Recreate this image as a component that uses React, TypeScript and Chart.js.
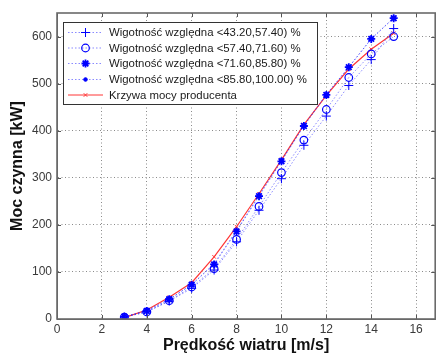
import React, { useEffect, useRef } from "react";
import { Chart, registerables } from "chart.js";

Chart.register(...registerables);

const windSpeed = [3, 4, 5, 6, 7, 8, 9, 10, 11, 12, 13, 14, 15];
const hum1 = [4, 15, 38, 65, 104, 164, 231, 298, 369, 431, 496, 551, 617];
const hum2 = [4, 15, 39, 68, 107, 169, 239, 311, 380, 445, 513, 563, 600];
const hum3 = [5, 17, 42, 73, 116, 186, 261, 335, 410, 476, 535, 595, 639];
const hum4 = [5, 18, 42, 73, 118, 188, 263, 337, 411, 477, 535, 595, 640];
const producer = [3, 19, 46, 77, 132, 196, 266, 338, 413, 475, 531, 573, 607];

const seriesLabels = [
  "Wigotność względna <43.20,57.40) %",
  "Wigotność względna <57.40,71.60) %",
  "Wigotność względna <71.60,85.80) %",
  "Wigotność względna <85.80,100.00) %",
  "Krzywa mocy producenta",
];
const xTitle = "Prędkość wiatru [m/s]";
const yTitle = "Moc czynna [kW]";
const xTicks = [0, 2, 4, 6, 8, 10, 12, 14, 16];
const yTicks = [0, 100, 200, 300, 400, 500, 600];

const FONT = "'Liberation Sans', Arial, sans-serif";
const BLUE = "#0000ff";
const BLUE_LINE = "rgba(40,40,255,0.55)";
const RED = "rgb(255,55,55)";

const pts = (ys: number[]) => windSpeed.map((x, i) => ({ x, y: ys[i] }));

function drawMarker(ctx: CanvasRenderingContext2D, style: string, r: number, x: number, y: number, d: any) {
  ctx.beginPath();
  if (style === "cross") {
    ctx.moveTo(x - r, y); ctx.lineTo(x + r, y);
    ctx.moveTo(x, y - r); ctx.lineTo(x, y + r);
    ctx.stroke();
  } else if (style === "crossRot") {
    const k = r * 0.707;
    ctx.moveTo(x - k, y - k); ctx.lineTo(x + k, y + k);
    ctx.moveTo(x - k, y + k); ctx.lineTo(x + k, y - k);
    ctx.stroke();
  } else if (style === "star") {
    const k = r * 0.707;
    ctx.moveTo(x - r, y); ctx.lineTo(x + r, y);
    ctx.moveTo(x, y - r); ctx.lineTo(x, y + r);
    ctx.moveTo(x - k, y - k); ctx.lineTo(x + k, y + k);
    ctx.moveTo(x - k, y + k); ctx.lineTo(x + k, y - k);
    ctx.stroke();
  } else {
    ctx.arc(x, y, r, 0, Math.PI * 2);
    if (d.pointBackgroundColor && d.pointBackgroundColor !== "rgba(0,0,0,0)") ctx.fill();
    ctx.stroke();
  }
}

const boxPlugin = {
  id: "matlabBox",
  afterDraw(chart: any) {
    const { ctx, chartArea: a, scales } = chart;
    ctx.save();
    ctx.strokeStyle = "#555";
    ctx.lineWidth = 1;
    ctx.beginPath();
    xTicks.forEach((v) => {
      const px = Math.round(scales.x.getPixelForValue(v)) + 0.5;
      ctx.moveTo(px, a.bottom);
      ctx.lineTo(px, a.bottom - 4);
      ctx.moveTo(px, a.top);
      ctx.lineTo(px, a.top + 4);
    });
    yTicks.forEach((v) => {
      const py = Math.round(scales.y.getPixelForValue(v)) + 0.5;
      ctx.moveTo(a.left, py);
      ctx.lineTo(a.left + 4, py);
      ctx.moveTo(a.right, py);
      ctx.lineTo(a.right - 4, py);
    });
    ctx.stroke();
    ctx.strokeStyle = "#6a6a6a";
    ctx.lineWidth = 1.6;
    ctx.strokeRect(a.left, a.top, a.right - a.left, a.bottom - a.top);

    // legend
    const lx = 63, ly = 22, lw = 254, lh = 82;
    ctx.fillStyle = "#ffffff";
    ctx.fillRect(lx, ly, lw, lh);
    ctx.strokeStyle = "#333";
    ctx.lineWidth = 1;
    ctx.strokeRect(lx + 0.5, ly + 0.5, lw, lh);
    const rows = [32.5, 48, 63.5, 79.5, 95];
    const ds = chart.data.datasets;
    rows.forEach((ry, i) => {
      const d = ds[i];
      ctx.save();
      ctx.strokeStyle = d.borderColor;
      ctx.lineWidth = 1;
      ctx.setLineDash(d.borderDash || []);
      ctx.beginPath();
      ctx.moveTo(68, ry);
      ctx.lineTo(103, ry);
      ctx.stroke();
      ctx.restore();
      ctx.save();
      ctx.strokeStyle = d.pointBorderColor;
      ctx.fillStyle = d.pointBackgroundColor;
      ctx.lineWidth = d.pointBorderWidth;
      drawMarker(ctx, d.pointStyle, d.pointRadius, 85.5, ry, d);
      ctx.restore();
      ctx.fillStyle = "#1a1a1a";
      ctx.font = `11.4px ${FONT}`;
      ctx.textBaseline = "middle";
      ctx.textAlign = "left";
      ctx.fillText(seriesLabels[i], 109, ry + 0.5);
    });
    ctx.restore();
  },
};

export default function App() {
  const ref = useRef<HTMLCanvasElement>(null);
  useEffect(() => {
    const blueBase = {
      showLine: true,
      borderColor: BLUE_LINE,
      borderWidth: 1,
      borderDash: [1.5, 2],
      pointBorderColor: BLUE,
      fill: false,
    };
    const chart = new Chart(ref.current!, {
      type: "scatter",
      data: {
        datasets: [
          { ...blueBase, label: seriesLabels[0], data: pts(hum1), pointStyle: "cross", pointRadius: 4.5, pointBorderWidth: 1, pointBackgroundColor: "rgba(0,0,0,0)" },
          { ...blueBase, label: seriesLabels[1], data: pts(hum2), pointStyle: "circle", pointRadius: 3.8, pointBorderWidth: 1.2, pointBackgroundColor: "rgba(0,0,0,0)" },
          { ...blueBase, label: seriesLabels[2], data: pts(hum3), pointStyle: "star", pointRadius: 4, pointBorderWidth: 1.8, pointBackgroundColor: BLUE },
          { ...blueBase, label: seriesLabels[3], data: pts(hum4), pointStyle: "circle", pointRadius: 1.8, pointBorderWidth: 1, pointBackgroundColor: BLUE },
          { label: seriesLabels[4], data: pts(producer), showLine: true, borderColor: RED, borderWidth: 1.2, pointStyle: "crossRot", pointRadius: 2.5, pointBorderWidth: 1, pointBorderColor: RED, pointBackgroundColor: RED, fill: false },
        ] as any,
      },
      options: {
        animation: false,
        responsive: false,
        layout: { padding: { top: 13, right: 0, left: 0, bottom: 0 } },
        plugins: { legend: { display: false }, tooltip: { enabled: false } },
        scales: {
          x: {
            type: "linear",
            min: 0,
            max: 16.85,
            afterFit: (s: any) => { s.height = 35; },
            ticks: { stepSize: 2, includeBounds: false, padding: 3, color: "#3a3a3a", font: { family: FONT, size: 12 }, maxRotation: 0 },
            grid: { color: "#8a8a8a", drawTicks: false, lineWidth: 1 },
            border: { display: true, color: "#6a6a6a", dash: [1, 2.5] },
            title: { display: true, text: xTitle, color: "#111", font: { family: FONT, size: 16, weight: "bold", lineHeight: 1 }, padding: { top: 0, bottom: 0 } },
          },
          y: {
            type: "linear",
            min: 0,
            max: 650,
            afterFit: (s: any) => { s.width = 57; },
            ticks: { stepSize: 100, includeBounds: false, padding: 5, color: "#3a3a3a", font: { family: FONT, size: 12 } },
            grid: { color: "#8a8a8a", drawTicks: false, lineWidth: 1 },
            border: { display: true, color: "#6a6a6a", dash: [1, 2.5] },
            title: { display: true, text: yTitle, color: "#111", font: { family: FONT, size: 16, weight: "bold", lineHeight: 1 }, padding: { top: 10, bottom: 0 } },
          },
        },
      } as any,
      plugins: [boxPlugin],
    });
    return () => chart.destroy();
  }, []);
  return (
    <div style={{ position: "fixed", left: 0, top: 0, width: 441, height: 354, background: "#fff" }}>
      <canvas ref={ref} width={441} height={354} style={{ display: "block" }} />
    </div>
  );
}
